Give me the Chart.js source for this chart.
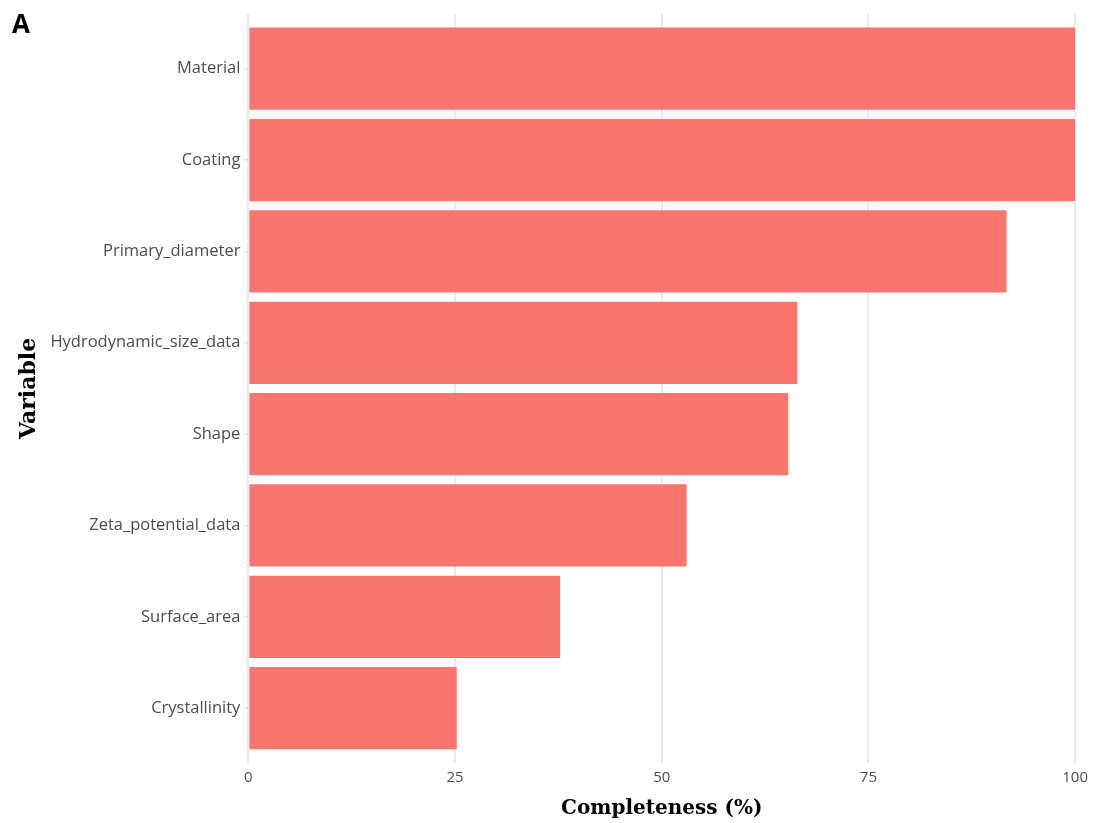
<!DOCTYPE html>
<html>
<head>
<meta charset="utf-8">
<script src="https://cdn.jsdelivr.net/npm/chart.js@4"></script>
<style>
html,body{margin:0;padding:0;background:#fff;}
#wrap{width:1094px;height:823px;position:relative;}
</style>
</head>
<body>
<div id="wrap"><canvas id="c" width="1094" height="823"></canvas></div>
<script>
const categories = ["Material","Coating","Primary_diameter","Hydrodynamic_size_data","Shape","Zeta_potential_data","Surface_area","Crystallinity"];
const completeness = [100, 100, 91.7, 66.4, 65.3, 53.0, 37.7, 25.2];
const xTicks = [0, 25, 50, 75, 100];
const panelLabel = "A";

const panelPlugin = {
  id: 'panelLabel',
  afterDraw(chart) {
    const ctx = chart.ctx;
    ctx.save();
    ctx.font = 'bold 26px "Open Sans", sans-serif';
    ctx.fillStyle = '#000';
    ctx.textBaseline = 'middle';
    ctx.textAlign = 'left';
    ctx.fillText(panelLabel, 12, 26);
    ctx.restore();
  }
};

new Chart(document.getElementById('c'), {
  type: 'bar',
  data: {
    datasets: [{
      data: completeness.map((v, i) => ({x: v, y: i})),
      backgroundColor: '#F8766D',
      borderWidth: 0,
      categoryPercentage: 1,
      barPercentage: 0.9
    }]
  },
  plugins: [panelPlugin],
  options: {
    indexAxis: 'y',
    responsive: false,
    devicePixelRatio: 1,
    animation: false,
    layout: {padding: {left: 16, right: 4, top: 10, bottom: 2}},
    plugins: {legend: {display: false}, tooltip: {enabled: false}},
    scales: {
      x: {
        type: 'linear',
        min: 0, max: 100,
        afterBuildTicks(scale) { scale.ticks = xTicks.map(v => ({value: v})); },
        grid: {color: '#ebebeb', lineWidth: 2, drawTicks: false},
        border: {display: false},
        ticks: {color: '#4d4d4d', font: {family: '"Open Sans"', size: 15}, padding: 6},
        title: {display: true, text: 'Completeness (%)', color: '#000',
          font: {family: '"DejaVu Serif"', size: 20, weight: 'bold'}, padding: {top: 4, bottom: 0}}
      },
      y: {
        type: 'linear',
        reverse: true,
        offset: false,
        min: -0.6, max: categories.length - 1 + 0.6,
        afterBuildTicks(scale) { scale.ticks = categories.map((_, i) => ({value: i})); },
        grid: {drawOnChartArea: false, drawTicks: true, tickLength: 4, color: '#e0e0e0', lineWidth: 1.5, offset: false},
        border: {display: false},
        ticks: {color: '#4d4d4d', font: {family: '"Open Sans"', size: 16.5}, padding: 4,
          callback: (v) => categories[v] !== undefined ? categories[v] : ''},
        title: {display: true, text: 'Variable', color: '#000',
          font: {family: '"DejaVu Serif"', size: 22, weight: 'bold'}, padding: {top: 0, bottom: 4}}
      }
    }
  }
});
</script>
</body>
</html>
